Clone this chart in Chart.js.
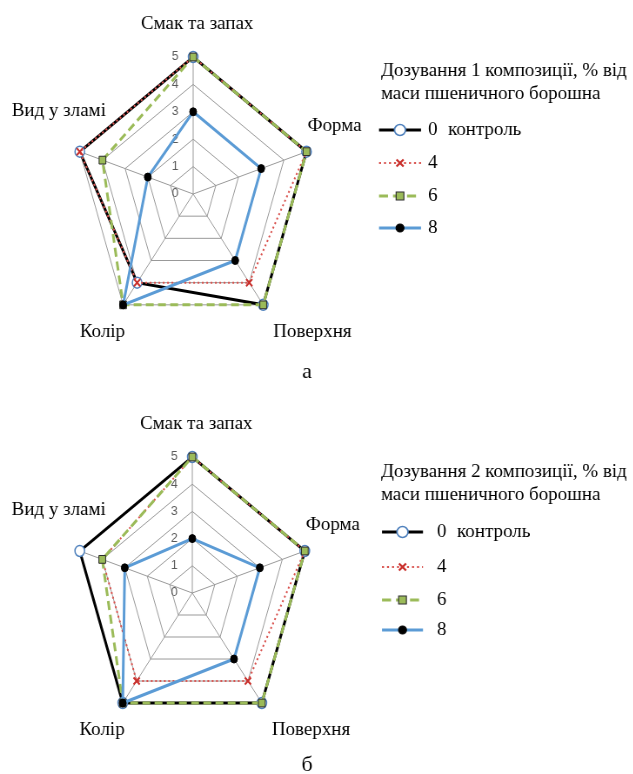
<!DOCTYPE html>
<html>
<head>
<meta charset="utf-8">
<script src="https://cdn.jsdelivr.net/npm/chart.js@4.4.0/dist/chart.umd.min.js"></script>
<style>
body { margin: 0; overflow: hidden; background: #fff; }
.box { position: absolute; left: 0; width: 728px; height: 387px; transform: scaleX(0.87); transform-origin: 0 0; }
</style>
</head>
<body>
<div class="box" style="top:0"><canvas id="chartA"></canvas></div>
<div class="box" style="top:387px"><canvas id="chartB"></canvas></div>
<script>
// the scanned figure is squeezed sideways, text is not
const SX = 0.87;

const axisLabels = ['Смак та запах', 'Форма', 'Поверхня', 'Колір', 'Вид у зламі'];
const tickValues = [0, 1, 2, 3, 4, 5];
const seriesNames = ['0', '4', '6', '8'];

// а - composition 1
const compA_0 = [5, 5, 5, 4, 5];
const compA_4 = [5, 5, 4, 4, 5];
const compA_6 = [5, 5, 5, 5, 4];
const compA_8 = [3, 3, 3, 5, 2];

// б - composition 2
const compB_0 = [5, 5, 5, 5, 5];
const compB_4 = [5, 5, 4, 4, 4];
const compB_6 = [5, 5, 5, 5, 4];
const compB_8 = [2, 3, 3, 5, 3];

const looks = [
    {color: '#000000', width: 3, dash: [], point: 'circle', radius: 5.5, fill: '#ffffff', edge: '#4f81bd', edgeW: 1.5},
    {color: '#d9534f', width: 2, dash: [2, 3], point: 'crossRot', radius: 5, fill: '#d9534f', edge: '#c9302c', edgeW: 2},
    {color: '#9bbb59', width: 3, dash: [9, 5], point: 'rect', radius: 5.5, fill: '#9bbb59', edge: '#2b2b2b', edgeW: 1},
    {color: '#5b9bd5', width: 3, dash: [], point: 'circle', radius: 4, fill: '#000000', edge: '#000000', edgeW: 1}
];

const SERIF = '19px "Liberation Serif", "Times New Roman", serif';
const SANS = '12px "Liberation Sans", Arial, sans-serif';

// where each axis name sits next to its outer vertex (screen px)
const labelPlace = [
    {dx: 4, dy: -33, align: 'center'},
    {dx: 1, dy: -26, align: 'left'},
    {dx: 10, dy: 27, align: 'left'},
    {dx: 2, dy: 27, align: 'right'},
    {dx: -21, dy: -41, align: 'center'}
];

function text(ctx, s, x, y, align, font, color, base) {
    ctx.save();
    ctx.font = font;
    ctx.fillStyle = color || '#000';
    ctx.textAlign = align;
    ctx.textBaseline = base || 'middle';
    ctx.fillText(s, x, y);
    ctx.restore();
}

function mark(ctx, lk, x, y) {
    ctx.save();
    ctx.lineWidth = lk.edgeW;
    ctx.strokeStyle = lk.edge;
    ctx.fillStyle = lk.fill;
    ctx.setLineDash([]);
    let r = lk.radius;
    ctx.beginPath();
    if (lk.point === 'circle') {
        ctx.arc(x, y, r, 0, Math.PI * 2);
        ctx.fill();
        ctx.stroke();
    } else if (lk.point === 'rect') {
        let s = r * Math.SQRT1_2;
        ctx.rect(x - s, y - s, 2 * s, 2 * s);
        ctx.fill();
        ctx.stroke();
    } else {
        let s = r * Math.SQRT1_2;
        ctx.moveTo(x - s, y - s); ctx.lineTo(x + s, y + s);
        ctx.moveTo(x + s, y - s); ctx.lineTo(x - s, y + s);
        ctx.stroke();
    }
    ctx.restore();
}

function decor(place) {
    return {
        id: 'decor',
        beforeDatasetsDraw(chart) {
            const ctx = chart.ctx, sc = chart.scales.r;
            ctx.save();
            ctx.scale(1 / SX, 1);
            tickValues.forEach(v => {
                let p = sc.getPointPositionForValue(0, v);
                text(ctx, String(v), p.x * SX - 18, p.y, 'center', SANS, '#595959');
            });
            ctx.restore();
        },
        afterDraw(chart) {
            const ctx = chart.ctx, sc = chart.scales.r, lg = place.legend;
            ctx.save();
            ctx.scale(1 / SX, 1);
            axisLabels.forEach((name, i) => {
                let p = sc.getPointPositionForValue(i, 5);
                let o = labelPlace[i];
                text(ctx, name, p.x * SX + o.dx, p.y + o.dy, o.align, SERIF);
            });
            // legend
            place.title.forEach((t, k) => text(ctx, t, lg.x, lg.titleY[k], 'left', SERIF));
            seriesNames.forEach((name, i) => {
                let y = lg.itemY[i], lk = looks[i];
                ctx.save();
                ctx.strokeStyle = lk.color;
                ctx.lineWidth = lk.width;
                ctx.setLineDash(lk.dash);
                ctx.beginPath();
                ctx.moveTo(lg.line[0], y);
                ctx.lineTo(lg.line[1], y);
                ctx.stroke();
                ctx.restore();
                mark(ctx, lk, (lg.line[0] + lg.line[1]) / 2, y);
                text(ctx, name, lg.num, y, 'left', SERIF);
            });
            text(ctx, 'контроль', lg.ctrl, lg.itemY[0], 'left', SERIF);
            text(ctx, place.letter[0], place.letter[1], place.letter[2], 'center', '22px "Liberation Serif", serif', '#000', 'alphabetic');
            ctx.restore();
        }
    };
}

function makeSets(series) {
    return series.map((vals, i) => ({
        label: seriesNames[i],
        data: vals,
        fill: false,
        tension: 0,
        borderColor: looks[i].color,
        borderWidth: looks[i].width,
        borderDash: looks[i].dash,
        pointStyle: looks[i].point,
        pointRadius: looks[i].radius,
        pointBackgroundColor: looks[i].fill,
        pointBorderColor: looks[i].edge,
        pointBorderWidth: looks[i].edgeW,
        order: series.length - i
    }));
}

function build(id, series, place) {
    new Chart(document.getElementById(id), {
        type: 'radar',
        data: {labels: axisLabels, datasets: makeSets(series)},
        options: {
            responsive: true,
            maintainAspectRatio: false,
            animation: false,
            layout: {padding: place.pad},
            plugins: {legend: {display: false}, tooltip: {enabled: false}},
            scales: {
                r: {
                    min: 0,
                    max: 5,
                    ticks: {display: false, stepSize: 1},
                    pointLabels: {display: false},
                    grid: {color: '#999999', lineWidth: 1},
                    angleLines: {color: '#999999', lineWidth: 1}
                }
            }
        },
        plugins: [decor(place)]
    });
}

build('chartA', [compA_0, compA_4, compA_6, compA_8], {
    pad: {left: 85, right: 369, top: 57, bottom: 56},
    title: ['Дозування 1 композиції, % від', 'маси пшеничного борошна'],
    legend: {x: 381, titleY: [71, 94], itemY: [130, 163, 196, 228], line: [379, 421], num: 428, ctrl: 448},
    letter: ['а', 307, 378]
});

build('chartB', [compB_0, compB_4, compB_6, compB_8], {
    pad: {left: 85, right: 371, top: 70, bottom: 45},
    title: ['Дозування 2 композиції, % від', 'маси пшеничного борошна'],
    legend: {x: 381, titleY: [85, 108], itemY: [145, 180, 213, 243], line: [382, 423], num: 437, ctrl: 457},
    letter: ['б', 307, 384]
});
</script>
</body>
</html>
